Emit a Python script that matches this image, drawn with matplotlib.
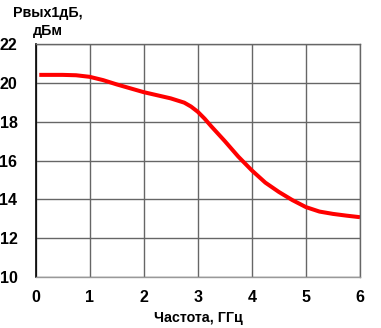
import matplotlib
matplotlib.use("Agg")
import matplotlib.pyplot as plt

# data
freq = [0.07, 0.25, 0.5, 0.75, 1.0, 1.25, 1.5, 1.75, 2.0, 2.25, 2.5, 2.75,
        2.875, 3.0, 3.125, 3.25, 3.5, 3.75, 4.0, 4.25, 4.5, 4.75, 5.0, 5.25,
        5.5, 5.75, 6.0]
p1db = [20.41, 20.41, 20.41, 20.39, 20.31, 20.14, 19.92, 19.72, 19.52, 19.36,
        19.20, 18.98, 18.78, 18.51, 18.16, 17.76, 17.00, 16.20, 15.49, 14.86,
        14.38, 13.96, 13.60, 13.37, 13.25, 13.16, 13.08]
xticks = [0, 1, 2, 3, 4, 5, 6]
yticks = [10, 12, 14, 16, 18, 20, 22]

plt.rcParams['font.family'] = ['Liberation Sans', 'DejaVu Sans']
plt.rcParams['font.weight'] = 'bold'

fig = plt.figure(figsize=(3.81, 3.28), dpi=100)
ax = fig.add_axes([35.5/381, 1 - 277/328, (360 - 35.5)/381, (277 - 44)/328])

ax.plot(freq, p1db, color='#ff0000', lw=2.9, solid_capstyle='butt', solid_joinstyle='round')

ax.set_xlim(0, 6)
ax.set_ylim(10, 22)
ax.set_xticks(xticks)
ax.set_yticks(yticks)
ax.grid(True, color='#666666', lw=1.0)
ax.tick_params(length=0, labelsize=11.5, pad=9)
for lab in ax.get_xticklabels() + ax.get_yticklabels():
    lab.set_fontweight('bold')
ax.tick_params(axis='y', pad=13)

for s in ['top', 'right']:
    ax.spines[s].set_color('#666666')
    ax.spines[s].set_linewidth(1.0)
ax.spines['bottom'].set_color('#999999')
ax.spines['bottom'].set_linewidth(1.0)
ax.spines['left'].set_color('black')
ax.spines['left'].set_linewidth(1.2)

fig.text(48/381, 1 - 22/328, 'Рвых1дБ,\nдБм', ha='center', va='center',
         fontsize=10.3, fontweight='bold', linespacing=1.35)
fig.text(198/381, 1 - 318/328, 'Частота, ГГц', ha='center', va='center',
         fontsize=10.3, fontweight='bold')

fig.savefig('out.png', dpi=100)
